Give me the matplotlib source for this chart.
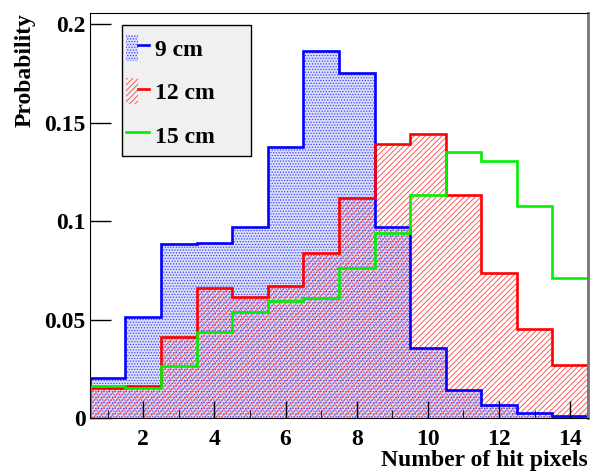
import numpy as np
import matplotlib
matplotlib.use("Agg")
import matplotlib.pyplot as plt
from matplotlib.patches import Patch, Rectangle
from matplotlib.lines import Line2D
from matplotlib.legend_handler import HandlerTuple

# bin edges: one bin per hit-pixel count, 1..14
edges = np.arange(0.5, 15.0, 1.0)
p9 = [0.0203, 0.0514, 0.0883, 0.0890, 0.0970, 0.1376, 0.1865, 0.1750,
      0.0971, 0.0357, 0.0141, 0.0066, 0.0025, 0.0012]
p12 = [0.0151, 0.0164, 0.0410, 0.0662, 0.0616, 0.0672, 0.0836, 0.1115,
       0.1390, 0.1440, 0.1132, 0.0734, 0.0450, 0.0269]
p15 = [0.0164, 0.0154, 0.0264, 0.0438, 0.0540, 0.0592, 0.0610, 0.0760,
       0.0940, 0.1132, 0.1349, 0.1305, 0.1076, 0.0709]
labels = ["9 cm", "12 cm", "15 cm"]
xticks = [2, 4, 6, 8, 10, 12, 14]
yticks = [0, 0.05, 0.1, 0.15, 0.2]
yticklabels = ["0", "0.05", "0.1", "0.15", "0.2"]

plt.rcParams["font.family"] = ["Liberation Serif", "DejaVu Serif"]
plt.rcParams["font.weight"] = "bold"
plt.rcParams["hatch.linewidth"] = 0.6

FS = 17
blue_fc = "#dcdffa"
blue_hatch = "......"
red_hatch = "//////"
green = "#00f000"

fig = plt.figure(figsize=(5.91, 4.71), dpi=100)
ax = fig.add_axes([0.152, 0.1125, 0.843, 0.8595])

# blue: dotted fill
ax.stairs(p9, edges, fill=True, facecolor=blue_fc, edgecolor="#3b45ff",
          hatch=blue_hatch, linewidth=0)
# red: hatched fill over it
ax.stairs(p12, edges, fill=True, facecolor="none", edgecolor="#ff4040",
          hatch=red_hatch, linewidth=0)
ax.stairs(p9, edges, color="blue", linewidth=1.9)
ax.stairs(p12, edges, color="red", linewidth=1.9)
ax.stairs(p15, edges, color=green, linewidth=1.9)

ax.set_xlim(0.5, 14.5)
ax.set_ylim(0, 0.2056)
ax.set_xticks(xticks)
ax.set_xticks(np.arange(1, 15, 2), minor=True)
ax.set_yticks(yticks)
ax.set_yticklabels(yticklabels)
ax.tick_params(axis="both", labelsize=FS, width=1)
ax.tick_params(axis="x", which="major", direction="in", length=12, pad=8)
ax.tick_params(axis="x", which="minor", direction="in", length=6)
ax.tick_params(axis="y", which="major", direction="in", length=15, pad=3)
ax.tick_params(top=False, right=False)
ax.spines["right"].set_color("#777777")
ax.spines["right"].set_linewidth(2)

ax.set_xlabel("Number of hit pixels", fontsize=FS, fontweight="bold",
              loc="right", labelpad=0)
ax.set_ylabel("Probability", fontsize=FS, fontweight="bold", loc="top",
              labelpad=6)

# legend box drawn as a plain rectangle, entries on top of it
ax.add_patch(Rectangle((0.064, 0.647), 0.259, 0.323, transform=ax.transAxes,
                       facecolor="#f0f0f0", edgecolor="black", linewidth=1,
                       zorder=4))
h9 = (Patch(facecolor=blue_fc, edgecolor="#3b45ff", hatch=blue_hatch, linewidth=0),
      Line2D([], [], color="blue", linewidth=1.9))
h12 = (Patch(facecolor="none", edgecolor="#ff4040", hatch=red_hatch, linewidth=0),
       Line2D([], [], color="red", linewidth=1.9))
h15 = Line2D([], [], color=green, linewidth=1.9)
leg = ax.legend([h9, h12, h15], labels, loc="upper left",
                bbox_to_anchor=(0.064, 0.958), borderaxespad=0,
                handler_map={tuple: HandlerTuple(ndivide=None, pad=0)},
                prop={"family": "Liberation Serif", "weight": "bold", "size": FS},
                frameon=False, handlelength=0.95, handleheight=1.3,
                labelspacing=0.75, handletextpad=0.25, borderpad=0.2)
leg.set_zorder(5)

fig.savefig("out.png", dpi=100)
